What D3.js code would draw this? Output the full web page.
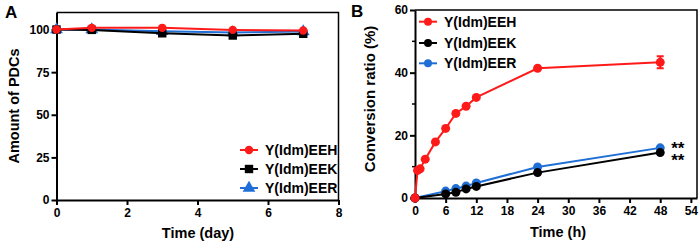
<!DOCTYPE html>
<html>
<head>
<meta charset="utf-8">
<script src="https://cdn.jsdelivr.net/npm/d3@7"></script>
<style>
  body { margin: 0; background: #fff; }
  svg { display: block; font-family: "Liberation Sans", Arial, sans-serif; font-weight: bold; }
</style>
</head>
<body>
<div id="chart"></div>
<script>
// ---- data ----
const seriesNames = ["Y(Idm)EEH", "Y(Idm)EEK", "Y(Idm)EER"];
const seriesColors = ["#ff1a1a", "#000000", "#1f6fd6"];

// panel A: stability over days
const daysA = [0, 1, 3, 5, 7];
const eehA = [100, 101, 101, 99.8, 99.4];
const eekA = [100, 99.8, 97.8, 96.5, 97.5];
const eerA = [100, 100, 99, 98.2, 98.8];
const yTicksA = [0, 25, 50, 75, 100];
const xTicksA = [0, 2, 4, 6, 8];

// panel B: conversion ratio over hours
const hoursEEH = [0, 0.5, 1, 2, 4, 6, 8, 10, 12, 24, 48];
const eehB = [0, 8.8, 9.3, 12.4, 17.9, 22.2, 27.0, 29.3, 32.1, 41.4, 43.3];
const eehErrB = [0, 0, 0, 0, 0, 0, 0, 0, 0, 0, 1.9];
const hoursK = [0, 6, 8, 10, 12, 24, 48];
const eekB = [0, 1.3, 1.8, 2.9, 3.7, 8.1, 14.5];
const eerB = [0, 2.2, 3.0, 3.8, 4.8, 9.9, 16.0];
const yTicksB = [0, 20, 40, 60];
const yMinorB = [10, 30, 50];
const xTicksB = [0, 6, 12, 18, 24, 30, 36, 42, 48, 54];

const W = 700, H = 247;
const svg = d3.select("#chart").append("svg").attr("width", W).attr("height", H);

function drawFrame(g, x, y, xTicks, yTicks, yMinor) {
  const [x0, x1] = x.range();
  const [y0, y1] = y.range();
  // box
  g.append("path")
    .attr("d", `M${x0},${y1}H${x1}V${y0}`)
    .attr("fill", "none").attr("stroke", "#000").attr("stroke-width", 1.5);

  const xAxis = g.append("g").attr("transform", `translate(0,${y0})`)
    .call(d3.axisBottom(x).tickValues(xTicks).tickSize(5).tickPadding(3).tickSizeOuter(0));
  const yAxis = g.append("g").attr("transform", `translate(${x0},0)`)
    .call(d3.axisLeft(y).tickValues(yTicks).tickSize(5).tickPadding(2).tickSizeOuter(0));
  [xAxis, yAxis].forEach(a => {
    a.select(".domain").attr("stroke-width", 2);
    a.selectAll(".tick line").attr("stroke-width", 2);
    a.selectAll("text").attr("font-size", 12).attr("font-weight", "bold")
      .attr("font-family", "Liberation Sans, Arial, sans-serif").attr("fill", "#000");
  });
  if (yMinor) {
    g.selectAll(".minor").data(yMinor).enter().append("line")
      .attr("x1", x0 - 3).attr("x2", x0)
      .attr("y1", d => y(d)).attr("y2", d => y(d))
      .attr("stroke", "#000").attr("stroke-width", 1.5);
  }
}

function drawMarker(g, shape, cx, cy, color, size) {
  if (shape === "circle") {
    g.append("circle").attr("cx", cx).attr("cy", cy).attr("r", size).attr("fill", color);
  } else if (shape === "square") {
    g.append("rect").attr("x", cx - size).attr("y", cy - size)
      .attr("width", size * 2).attr("height", size * 2).attr("fill", color);
  } else {
    g.append("path").attr("transform", `translate(${cx},${cy})`)
      .attr("d", d3.symbol().type(d3.symbolTriangle).size(size * size * 4)())
      .attr("fill", color);
  }
}

function drawSeries(g, x, y, xs, ys, color, shape, size) {
  const pts = xs.map((t, i) => [t, ys[i]]);
  g.append("path")
    .attr("d", d3.line().x(d => x(d[0])).y(d => y(d[1]))(pts))
    .attr("fill", "none").attr("stroke", color).attr("stroke-width", 2);
  pts.forEach(d => drawMarker(g, shape, x(d[0]), y(d[1]), color, size));
}

function drawLegend(g, x0, rows, shapes, size) {
  seriesNames.forEach((name, i) => {
    const yy = rows[i];
    g.append("line").attr("x1", x0).attr("x2", x0 + 18).attr("y1", yy).attr("y2", yy)
      .attr("stroke", seriesColors[i]).attr("stroke-width", 2);
    drawMarker(g, shapes[i], x0 + 9, yy, seriesColors[i], size);
    g.append("text").attr("x", x0 + 25).attr("y", yy + 5)
      .attr("font-size", 14).attr("fill", "#000").text(name);
  });
}

// ---- panel A ----
const gA = svg.append("g");
const xA = d3.scaleLinear().domain([0, 8]).range([56.5, 338.5]);
const yA = d3.scaleLinear().domain([0, 110]).range([200, 12.5]);
drawFrame(gA, xA, yA, xTicksA, yTicksA, null);
const shapesA = ["circle", "square", "triangle"];
[eerA, eekA, eehA].forEach((vals, k) => {
  const i = 2 - k;
  drawSeries(gA, xA, yA, daysA, vals, seriesColors[i], shapesA[i], 4.2);
});
drawLegend(gA, 240, [150, 169, 188], shapesA, 4.2);
gA.append("text").attr("x", 5).attr("y", 18).attr("font-size", 17).text("A");
gA.append("text").attr("transform", "translate(19,106) rotate(-90)")
  .attr("text-anchor", "middle").attr("font-size", 14.5).text("Amount of PDCs");
gA.append("text").attr("x", 198).attr("y", 238)
  .attr("text-anchor", "middle").attr("font-size", 14.5).text("Time (day)");

// ---- panel B ----
const gB = svg.append("g");
const xB = d3.scaleLinear().domain([0, 55.2]).range([415, 697]);
const yB = d3.scaleLinear().domain([0, 60]).range([198, 10]);
drawFrame(gB, xB, yB, xTicksB, yTicksB, yMinorB);
drawSeries(gB, xB, yB, hoursK, eerB, seriesColors[2], "circle", 4.5);
drawSeries(gB, xB, yB, hoursK, eekB, seriesColors[1], "circle", 4.5);
drawSeries(gB, xB, yB, hoursEEH, eehB, seriesColors[0], "circle", 4.5);
// error bars
hoursEEH.forEach((t, i) => {
  if (!eehErrB[i]) return;
  const cx = xB(t), lo = yB(eehB[i] - eehErrB[i]), hi = yB(eehB[i] + eehErrB[i]);
  gB.append("path")
    .attr("d", `M${cx},${lo}V${hi}M${cx - 3.5},${lo}H${cx + 3.5}M${cx - 3.5},${hi}H${cx + 3.5}`)
    .attr("stroke", seriesColors[0]).attr("stroke-width", 2).attr("fill", "none");
});
drawLegend(gB, 419, [21.7, 43, 63.3], ["circle", "circle", "circle"], 4);
// significance marks (upper for EER, lower for EEK), one text block with two lines
const yStarTop = yB(eerB[eerB.length - 1]) + 6;
const yStarBot = yB(eekB[eekB.length - 1]) + 13;
const stars = gB.append("text").attr("x", xB(48) + 11).attr("y", yStarTop).attr("font-size", 17);
stars.append("tspan").attr("x", xB(48) + 11).attr("y", yStarTop).text("**");
stars.append("tspan").attr("x", xB(48) + 11).attr("y", yStarBot).text("**");
gB.append("text").attr("x", 351).attr("y", 17).attr("font-size", 17).text("B");
gB.append("text").attr("transform", "translate(375,99) rotate(-90)")
  .attr("text-anchor", "middle").attr("font-size", 15).text("Conversion ratio (%)");
gB.append("text").attr("x", 558).attr("y", 237)
  .attr("text-anchor", "middle").attr("font-size", 14.5).text("Time (h)");
</script>
</body>
</html>
